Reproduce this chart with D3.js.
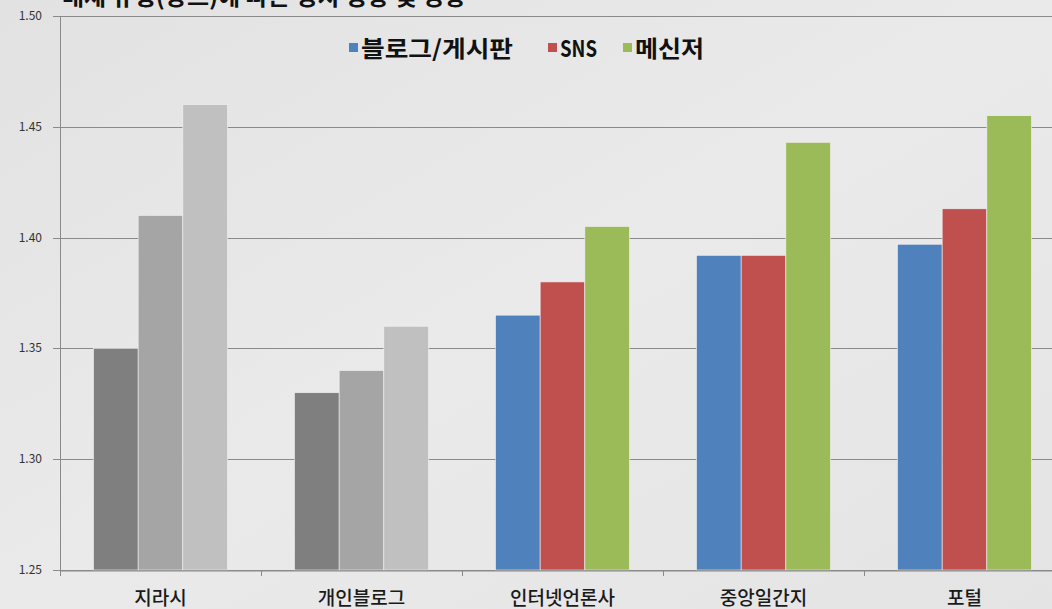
<!DOCTYPE html>
<html>
<head>
<meta charset="utf-8">
<script src="https://cdn.jsdelivr.net/npm/d3@7"></script>
<style>
  body { margin: 0; background: #e5e5e5; overflow: hidden; }
  text { font-family: "Noto Sans CJK KR", "Noto Sans", sans-serif; }
</style>
</head>
<body>
<script>
var categories = ["지라시", "개인블로그", "인터넷언론사", "중앙일간지", "포털"];
var seriesNames = ["블로그/게시판", "SNS", "메신저"];
var blogValues = [1.35, 1.33, 1.365, 1.392, 1.397];
var snsValues = [1.41, 1.34, 1.38, 1.392, 1.413];
var messengerValues = [1.46, 1.36, 1.405, 1.443, 1.455];
var yTicks = [1.25, 1.30, 1.35, 1.40, 1.45, 1.50];

var colours = ["#4f81bd", "#c0504d", "#9bbb59"];
var greys = ["#7f7f7f", "#a5a5a5", "#c0c0c0"];

var width = 1052, height = 609;
var margin = {top: 16, left: 60, bottom: 39};

var svg = d3.select("body")
  .append("svg")
    .attr("width", width)
    .attr("height", height);

// background
var defs = svg.append("defs");
var grad = defs.append("linearGradient")
    .attr("id", "bg")
    .attr("x1", 0).attr("y1", 0).attr("x2", 1).attr("y2", 1);
grad.append("stop").attr("offset", "0%").attr("stop-color", "#e2e2e2");
grad.append("stop").attr("offset", "50%").attr("stop-color", "#eaeaea");
grad.append("stop").attr("offset", "100%").attr("stop-color", "#e4e4e4");
svg.append("rect")
    .attr("width", width).attr("height", height)
    .attr("fill", "url(#bg)");

// title, cut by the top edge as in the source image
svg.append("text")
    .attr("x", 62).attr("y", 5)
    .attr("font-size", 24).attr("font-weight", "bold")
    .attr("fill", "#111")
    .text("매체 유형(장르)에 따른 정치 성향 및 영향");

var x = d3.scaleBand()
  .domain(categories)
  .range([margin.left, margin.left + 201 * categories.length]);

var y = d3.scaleLinear()
  .domain([1.25, 1.50])
  .range([height - margin.bottom, margin.top]);

var inner = d3.scaleBand()
  .domain([0, 1, 2])
  .range([0, x.bandwidth()])
  .paddingOuter(0.75)
  .paddingInner(0);

// grid
svg.append("g")
  .selectAll("line")
  .data(yTicks)
  .enter()
    .append("line")
      .attr("x1", margin.left - 7)
      .attr("x2", width)
      .attr("y1", function(d) { return Math.round(y(d)) + 0.5; })
      .attr("y2", function(d) { return Math.round(y(d)) + 0.5; })
      .attr("stroke", "#8a8a8a")
      .attr("stroke-width", 1.2);

// y labels
svg.append("g")
  .selectAll("text")
  .data(yTicks)
  .enter()
    .append("text")
      .attr("x", 42)
      .attr("y", function(d) { return y(d) + 4; })
      .attr("text-anchor", "end")
      .attr("font-size", 12)
      .attr("font-family", "'DejaVu Sans', sans-serif")
      .attr("fill", "#333")
      .text(function(d) { return d.toFixed(2); });

// bars
var rows = categories.map(function(c, i) {
  return {name: c, values: [blogValues[i], snsValues[i], messengerValues[i]], idx: i};
});

var groups = svg.append("g")
  .selectAll("g")
  .data(rows)
  .enter()
    .append("g")
      .attr("transform", function(d) { return "translate(" + x(d.name) + ",0)"; });

groups.selectAll("rect")
  .data(function(d) {
    return d.values.map(function(v, j) { return {v: v, j: j, grey: d.idx < 2}; });
  })
  .enter()
    .append("rect")
      .attr("x", function(d) { return inner(d.j); })
      .attr("width", inner.bandwidth())
      .attr("y", function(d) { return y(d.v); })
      .attr("height", function(d) { return y(1.25) - y(d.v); })
      .attr("fill", function(d) { return d.grey ? greys[d.j] : colours[d.j]; })
      .attr("stroke", "#f2f2f2")
      .attr("stroke-width", 0.6);

// y axis line
svg.append("line")
    .attr("x1", margin.left + 0.5).attr("x2", margin.left + 0.5)
    .attr("y1", margin.top).attr("y2", y(1.25))
    .attr("stroke", "#8a8a8a");

// x axis
var xAxis = svg.append("g")
  .attr("transform", "translate(0," + (Math.round(y(1.25)) + 0.5) + ")")
  .call(d3.axisBottom(x).tickSize(0).tickPadding(21));
xAxis.select(".domain").attr("stroke", "#8a8a8a").attr("stroke-width", 1.2);
xAxis.selectAll("text")
  .attr("font-size", 19)
  .attr("font-weight", 500)
  .attr("font-family", "'Noto Sans CJK KR', sans-serif")
  .attr("fill", "#1a1a1a");

svg.append("g")
  .selectAll("line")
  .data(categories)
  .enter()
    .append("line")
      .attr("x1", function(d) { return Math.round(x(d)) + 0.5; })
      .attr("x2", function(d) { return Math.round(x(d)) + 0.5; })
      .attr("y1", y(1.25))
      .attr("y2", y(1.25) + 6)
      .attr("stroke", "#8a8a8a");

// legend
var legendX = [349, 548, 623];
var legendW = [152, 37, 69];
var legend = svg.append("g")
  .selectAll("g")
  .data(seriesNames)
  .enter()
    .append("g")
      .attr("transform", function(d, i) { return "translate(" + legendX[i] + ",42)"; });
legend.append("rect")
    .attr("width", 9).attr("height", 9)
    .attr("y", 1)
    .attr("fill", function(d, i) { return colours[i]; });
legend.append("text")
    .attr("x", 12).attr("y", 15)
    .attr("font-size", 23)
    .attr("font-weight", "bold")
    .attr("fill", "#111")
    .attr("textLength", function(d, i) { return legendW[i]; })
    .attr("lengthAdjust", "spacingAndGlyphs")
    .text(function(d) { return d; });
</script>
</body>
</html>
